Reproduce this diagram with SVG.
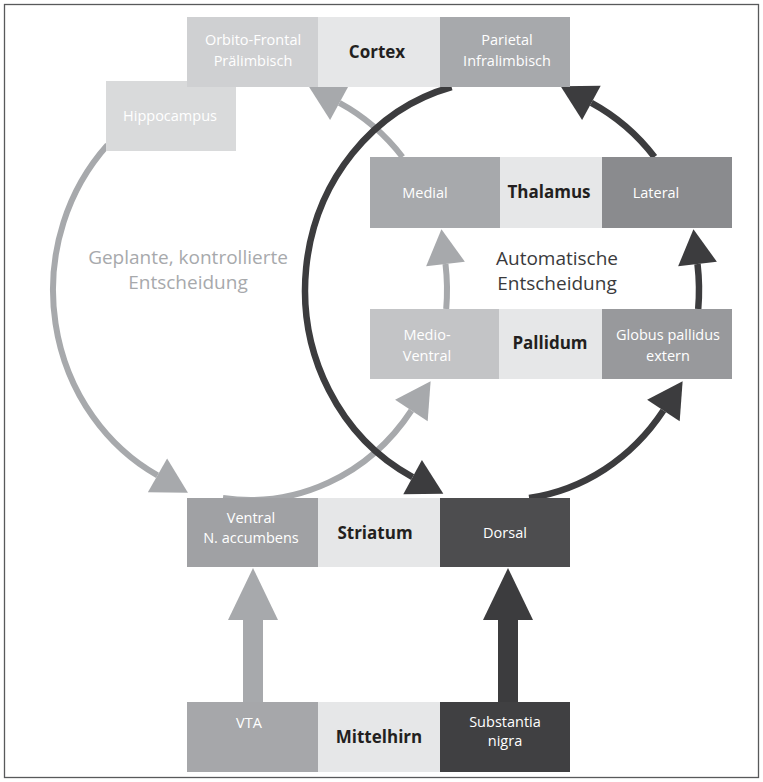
<svg xmlns="http://www.w3.org/2000/svg" width="763" height="782" viewBox="0 0 763 782">
<style>
.lbl{font-family:"Open Sans","Noto Sans",sans-serif;font-size:14.5px;fill:#ffffff;text-anchor:middle}
.hd{font-family:"Open Sans","Noto Sans",sans-serif;font-size:17px;font-weight:bold;fill:#231f20;text-anchor:middle}
.big{font-family:"Open Sans","Noto Sans",sans-serif;font-size:19px;text-anchor:middle}
.cl{fill:none;stroke:#a7a9ac;stroke-width:6}
.cd{fill:none;stroke:#3c3c3e;stroke-width:6.5}
.mid{fill:#e6e7e8}
</style>
<defs>
<marker id="al" markerUnits="userSpaceOnUse" markerWidth="40" markerHeight="40" refX="0" refY="0" orient="auto" overflow="visible"><path d="M0,-19.5 L35,0 L0,19.5 z" fill="#a7a9ac"/></marker>
<marker id="ad" markerUnits="userSpaceOnUse" markerWidth="40" markerHeight="40" refX="0" refY="0" orient="auto" overflow="visible"><path d="M0,-19.5 L35,0 L0,19.5 z" fill="#3c3c3e"/></marker>
</defs>
<rect x="4.5" y="4.5" width="754" height="773" fill="#ffffff" stroke="#58595b" stroke-width="1.3"/>
<g id="connectors">
<path class="cl" d="M107.5,145 A197,210 0 0 0 157.5,475.4" marker-end="url(#al)"/>
<path class="cl" d="M222.9,498 A197,210 0 0 0 411.4,410.5" marker-end="url(#al)"/>
<path class="cl" d="M446.2,309 A197,210 0 0 0 445.5,264" marker-end="url(#al)"/>
<path class="cl" d="M402.5,157 A197,210 0 0 0 339.4,102.9" marker-end="url(#al)"/>
<path class="cd" d="M451.6,87 A197,210 0 0 0 412.6,477.1" marker-end="url(#ad)"/>
<path class="cd" d="M529.1,498 A197,210 0 0 0 663.4,410.5" marker-end="url(#ad)"/>
<path class="cd" d="M698.2,309 A197,210 0 0 0 697.5,264" marker-end="url(#ad)"/>
<path class="cd" d="M654.5,157 A197,210 0 0 0 591.4,102.9" marker-end="url(#ad)"/>
<g id="vta-arrow" fill="#a7a9ac"><rect x="243" y="616" width="20" height="87"/><polygon points="253,568 228,620 278,620"/></g>
<g id="sn-arrow" fill="#3c3c3e"><rect x="498" y="616" width="20" height="87"/><polygon points="508,568 483,620 533,620"/></g>
</g>
<g id="hippocampus"><rect x="106" y="81" width="130" height="70" fill="#d9dadb"/><text class="lbl" x="170" y="121">Hippocampus</text></g>
<g id="cortex">
<rect x="187" y="17" width="131" height="70" fill="#cfd0d2"/><text class="lbl" x="253" y="45">Orbito-Frontal</text><text class="lbl" x="253" y="66">Prälimbisch</text>
<rect class="mid" x="318" y="17" width="122" height="70"/><text class="hd" x="377" y="58">Cortex</text>
<rect x="440" y="17" width="130" height="70" fill="#a7a9ac"/><text class="lbl" x="507" y="45">Parietal</text><text class="lbl" x="507" y="66">Infralimbisch</text>
</g>
<g id="thalamus">
<rect x="370" y="157" width="130" height="71" fill="#a7a9ac"/><text class="lbl" x="425" y="198">Medial</text>
<rect class="mid" x="500" y="157" width="102" height="71"/><text class="hd" x="549" y="198">Thalamus</text>
<rect x="602" y="157" width="130" height="71" fill="#8a8b8e"/><text class="lbl" x="656" y="198">Lateral</text>
</g>
<g id="pallidum">
<rect x="370" y="309" width="129" height="70" fill="#c3c4c6"/><text class="lbl" x="427" y="340">Medio-</text><text class="lbl" x="427" y="361">Ventral</text>
<rect class="mid" x="499" y="309" width="103" height="70"/><text class="hd" x="550" y="349">Pallidum</text>
<rect x="602" y="309" width="130" height="70" fill="#98999c"/><text class="lbl" x="668" y="340">Globus pallidus</text><text class="lbl" x="668" y="361">extern</text>
</g>
<g id="striatum">
<rect x="187" y="498" width="131" height="69" fill="#a0a1a4"/><text class="lbl" x="251" y="523">Ventral</text><text class="lbl" x="251" y="543">N. accumbens</text>
<rect class="mid" x="318" y="498" width="122" height="69"/><text class="hd" x="375" y="539">Striatum</text>
<rect x="440" y="498" width="130" height="69" fill="#4d4d4f"/><text class="lbl" x="505" y="538">Dorsal</text>
</g>
<g id="mittelhirn">
<rect x="187" y="702" width="131" height="70" fill="#a6a7aa"/><text class="lbl" x="249" y="728">VTA</text>
<rect class="mid" x="318" y="702" width="122" height="70"/><text class="hd" x="379" y="743">Mittelhirn</text>
<rect x="440" y="702" width="130" height="70" fill="#404042"/><text class="lbl" x="505" y="727">Substantia</text><text class="lbl" x="505" y="746">nigra</text>
</g>
<g id="labels">
<text class="big" x="188" y="264" fill="#a7a9ac">Geplante, kontrollierte</text>
<text class="big" x="188" y="289" fill="#a7a9ac">Entscheidung</text>
<text class="big" x="557" y="265" fill="#3a3a3c">Automatische</text>
<text class="big" x="557" y="290" fill="#3a3a3c">Entscheidung</text>
</g>
</svg>
